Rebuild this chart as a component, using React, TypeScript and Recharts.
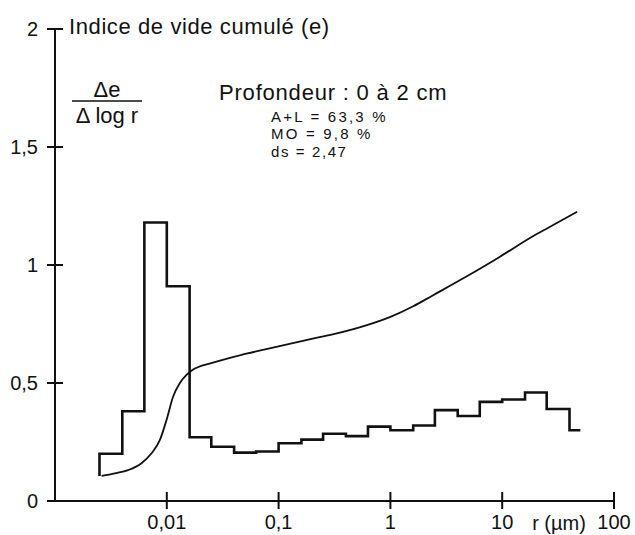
import React from "react";
import { LineChart, Line, XAxis, YAxis } from "recharts";

// Histogram bin edges r (µm) and Δe/Δlog r values
const binEdges = [0.0025, 0.004, 0.0063, 0.01, 0.016, 0.025, 0.04, 0.063, 0.1, 0.16, 0.25, 0.4, 0.63, 1, 1.6, 2.5, 4, 6.3, 10, 16, 25, 40, 50];
const binValues = [0.2, 0.38, 1.18, 0.91, 0.27, 0.23, 0.205, 0.21, 0.245, 0.26, 0.285, 0.275, 0.315, 0.3, 0.32, 0.385, 0.36, 0.42, 0.43, 0.46, 0.39, 0.3];
const histBase = 0.106;

// Cumulative void index curve
const curveR = [0.00261, 0.00343, 0.00451, 0.00594, 0.0073, 0.00866, 0.00994, 0.01138, 0.01305, 0.015, 0.0166, 0.0259, 0.0515, 0.102, 0.202, 0.305, 0.607, 0.99, 1.6, 2.37, 4.74, 9.4, 18.5, 26.3, 46.8];
const curveE = [0.106, 0.117, 0.131, 0.16, 0.202, 0.258, 0.343, 0.442, 0.499, 0.534, 0.552, 0.586, 0.624, 0.656, 0.688, 0.706, 0.744, 0.779, 0.825, 0.87, 0.95, 1.033, 1.12, 1.16, 1.226];

const xTicks = [0.01, 0.1, 1, 10, 100];
const xTickLabels = ["0,01", "0,1", "1", "10", "100"];
const yTicks = [0, 0.5, 1, 1.5, 2];
const yTickLabels = ["0", "0,5", "1", "1,5", "2"];

const histData = [
  { r: binEdges[0], v: histBase },
  ...binEdges.map((r, i) => ({ r, v: binValues[Math.min(i, binValues.length - 1)] })),
];
const curveData = curveR.map((r, i) => ({ r, e: curveE[i] }));

const FONT = "'Liberation Sans', Arial, Helvetica, sans-serif";
const TS = 8;
const TM_X = 6;
const TM_Y = 9;
const INK = "#111";

const renderXTick = (props: any) => {
  const { x, y, payload } = props;
  const ax = Number(x);
  const axisY = Number(y) - TS - TM_X;
  const idx = xTicks.indexOf(payload.value);
  return (
    <g>
      <rect x={ax - 1} y={axisY - 9} width={2} height={17} fill={INK} />
      <text x={ax} y={Number(y)} dy="0.71em" textAnchor="middle" fontFamily={FONT} fontSize={20} fill={INK}>
        {idx >= 0 ? xTickLabels[idx] : String(payload.value)}
      </text>
    </g>
  );
};

const renderYTick = (props: any) => {
  const { x, y, payload } = props;
  const ay = Number(y);
  const axisX = Number(x) + TS + TM_Y;
  const idx = yTicks.indexOf(payload.value);
  return (
    <g>
      <rect x={axisX - 8} y={ay - 1} width={16} height={2} fill={INK} />
      <text x={Number(x)} y={ay} dy="0.355em" textAnchor="end" fontFamily={FONT} fontSize={20} fill={INK}>
        {idx >= 0 ? yTickLabels[idx] : String(payload.value)}
      </text>
    </g>
  );
};

export default function App() {
  return (
    <div style={{ position: "absolute", left: 0, top: 0, width: 635, height: 535, background: "#fff" }}>
      <LineChart width={635} height={535} margin={{ top: 29, right: 21, bottom: 4, left: 10 }}>
        <XAxis
          type="number"
          dataKey="r"
          scale="log"
          domain={[0.001, 100]}
          allowDataOverflow
          ticks={xTicks}
          tick={renderXTick}
          tickLine={false}
          tickSize={TS}
          tickMargin={TM_X}
          height={30}
          axisLine={{ stroke: INK, strokeWidth: 2 }}
          interval={0}
        />
        <YAxis
          type="number"
          domain={[0, 2]}
          ticks={yTicks}
          tick={renderYTick}
          tickLine={false}
          tickSize={TS}
          tickMargin={TM_Y}
          width={45}
          axisLine={{ stroke: INK, strokeWidth: 2 }}
          interval={0}
        />
        <Line
          data={histData}
          dataKey="v"
          type="stepAfter"
          stroke={INK}
          strokeWidth={2.6}
          dot={false}
          isAnimationActive={false}
        />
        <Line
          data={curveData}
          dataKey="e"
          type="monotone"
          stroke={INK}
          strokeWidth={1.8}
          dot={false}
          isAnimationActive={false}
        />
      </LineChart>
      <svg width={635} height={535} style={{ position: "absolute", left: 0, top: 0, pointerEvents: "none" }}>
        <g fontFamily={FONT} fill={INK}>
          <text x={69} y={34} fontSize={22} letterSpacing={0.6}>Indice de vide cumulé (e)</text>
          <text x={107} y={97} fontSize={22} textAnchor="middle">Δe</text>
          <line x1={72} x2={142} y1={101} y2={101} stroke={INK} strokeWidth={1.6} />
          <text x={107} y={123} fontSize={22} textAnchor="middle">Δ log r</text>
          <text x={219} y={100} fontSize={22} letterSpacing={0.8}>Profondeur : 0 à 2 cm</text>
          <text x={271} y={121.5} fontSize={15} letterSpacing={2.2}>A+L = 63,3 %</text>
          <text x={271} y={139} fontSize={15} letterSpacing={2.2}>MO = 9,8 %</text>
          <text x={271} y={156.5} fontSize={15} letterSpacing={1.6}>ds = 2,47</text>
          <text x={559} y={530} fontSize={20} textAnchor="middle">r (µm)</text>
        </g>
      </svg>
    </div>
  );
}
